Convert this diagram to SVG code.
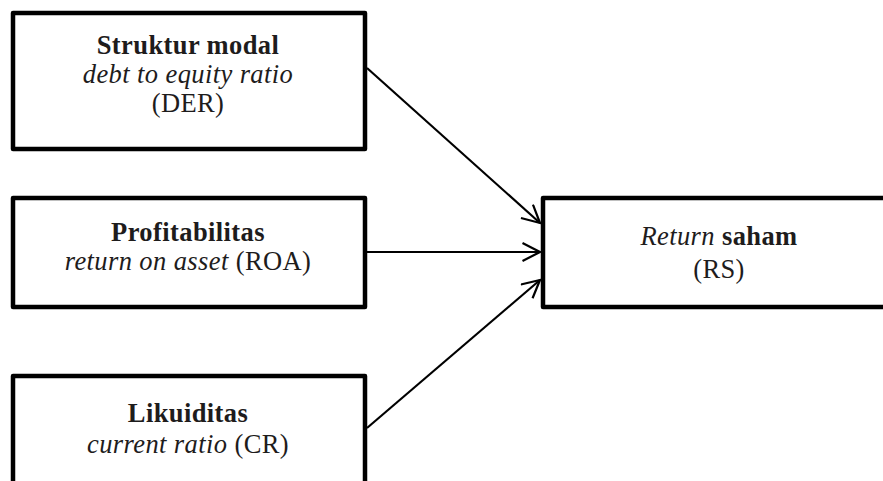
<svg xmlns="http://www.w3.org/2000/svg" width="883" height="481" viewBox="0 0 883 481">
<style>
.box{fill:#fff;stroke:#000;stroke-width:4.5;stroke-linejoin:round}
.t{font-family:"Liberation Serif","Times New Roman",serif;font-size:26.5px;fill:#1e1c1c;text-anchor:middle;letter-spacing:0.4px}
.b{font-weight:bold}
.i{font-style:italic}
.c{stroke:#000;stroke-width:2.2;fill:none}
</style>
<defs>
<marker id="arr" markerUnits="userSpaceOnUse" viewBox="0 0 20 20" refX="18.5" refY="10" markerWidth="20" markerHeight="20" orient="auto">
<path d="M1,1 L18.5,10 L1,19" fill="none" stroke="#000" stroke-width="2.2" stroke-linejoin="miter"/>
</marker>
</defs>
<rect width="883" height="481" fill="#fff"/>
<g id="connectors">
<line class="c" x1="367" y1="68" x2="540" y2="223" marker-end="url(#arr)"/>
<line class="c" x1="367" y1="252" x2="540" y2="252" marker-end="url(#arr)"/>
<line class="c" x1="367" y1="428" x2="540" y2="280" marker-end="url(#arr)"/>
</g>
<g id="der">
<rect class="box" x="13" y="13" width="352" height="136"/>
<text class="t b" x="188" y="54">Struktur modal</text>
<text class="t i" x="188" y="83">debt to equity ratio</text>
<text class="t" x="188" y="112">(DER)</text>
</g>
<g id="roa">
<rect class="box" x="13" y="198" width="352" height="109"/>
<text class="t b" x="188" y="241">Profitabilitas</text>
<text class="t" x="188" y="270"><tspan class="i">return on asset</tspan> (ROA)</text>
</g>
<g id="cr">
<rect class="box" x="13" y="376" width="352" height="130"/>
<text class="t b" x="188" y="422">Likuiditas</text>
<text class="t" x="188" y="453"><tspan class="i">current ratio</tspan> (CR)</text>
</g>
<g id="rs">
<rect class="box" x="543" y="198" width="352" height="109"/>
<text class="t" x="719" y="245"><tspan class="i">Return</tspan> <tspan class="b">saham</tspan></text>
<text class="t" x="719" y="278">(RS)</text>
</g>
</svg>
